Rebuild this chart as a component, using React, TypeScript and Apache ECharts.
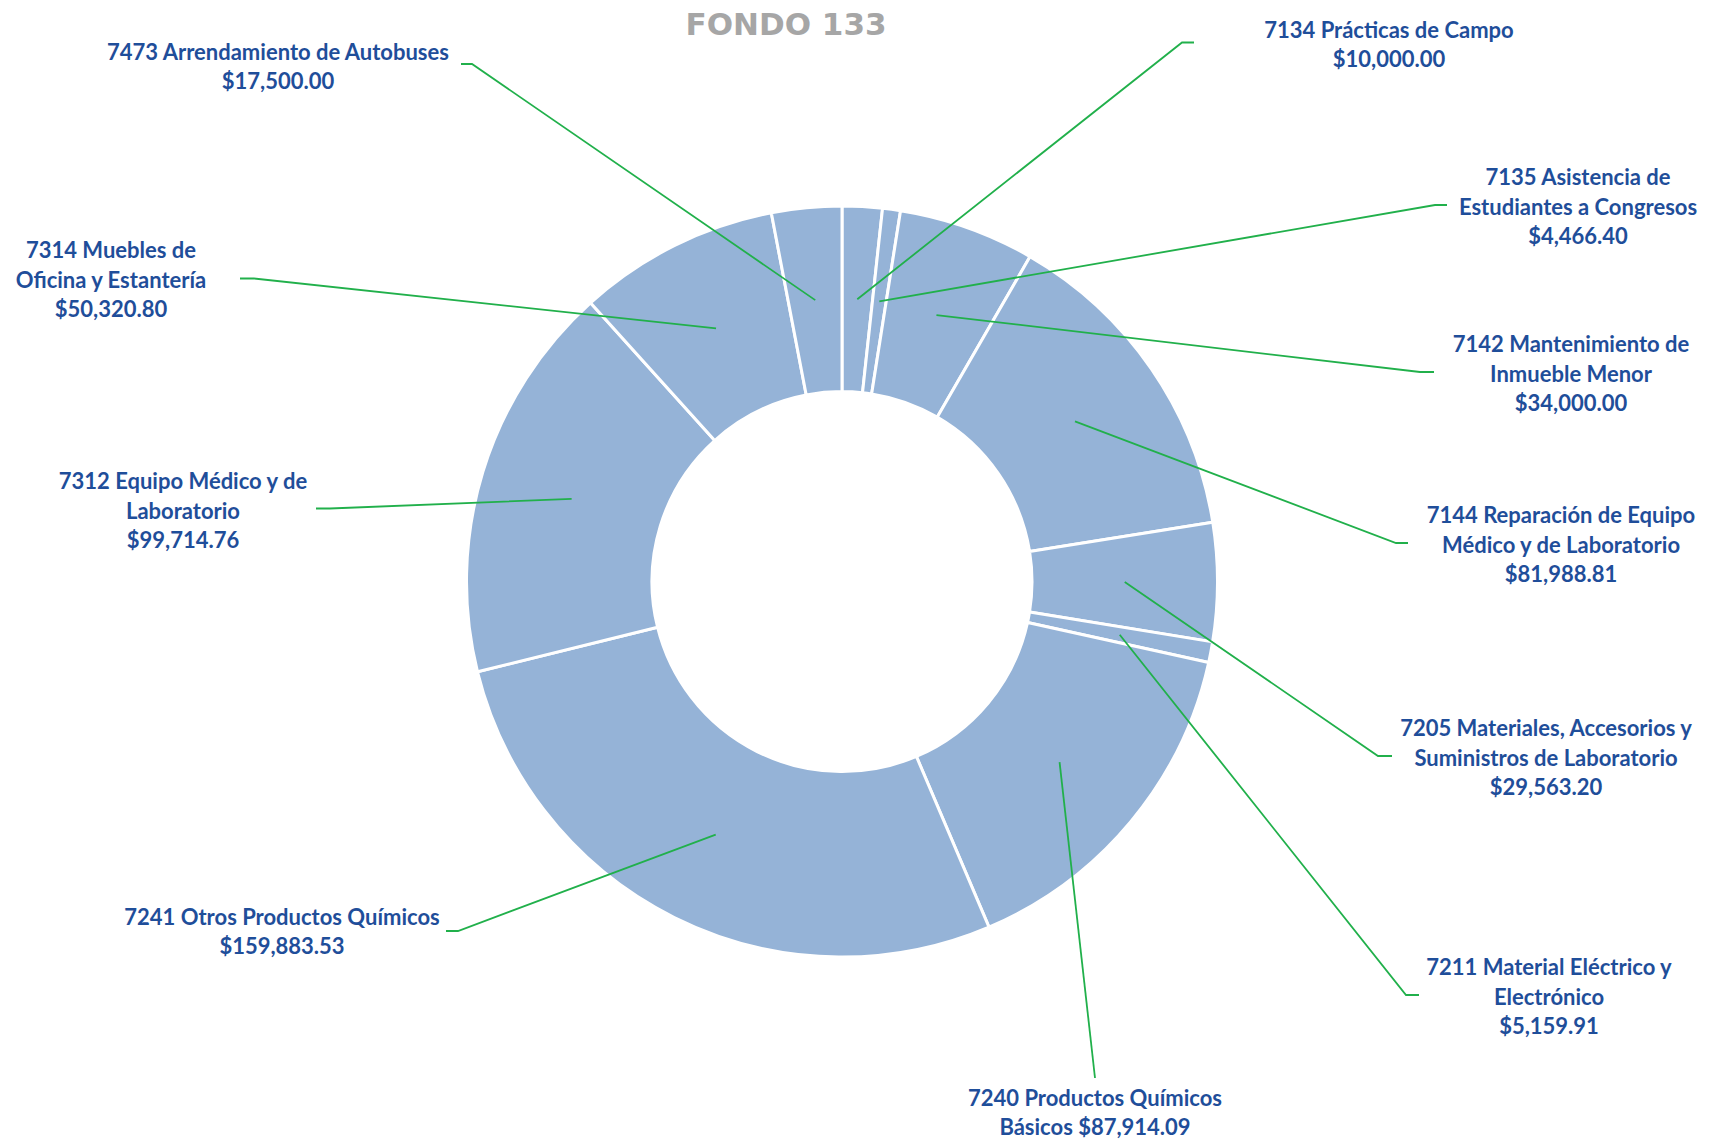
import React, { useEffect, useRef } from "react";
import * as echarts from "echarts";

// ---- data ----
const categories: string[] = [
  "7134 Prácticas de Campo",
  "7135 Asistencia de\nEstudiantes a Congresos",
  "7142 Mantenimiento de\nInmueble Menor",
  "7144 Reparación de Equipo\nMédico y de Laboratorio",
  "7205 Materiales, Accesorios y\nSuministros de Laboratorio",
  "7211 Material Eléctrico y\nElectrónico",
  "7240 Productos Químicos\nBásicos",
  "7241 Otros Productos Químicos",
  "7312 Equipo Médico y de\nLaboratorio",
  "7314 Muebles de\nOficina y Estantería",
  "7473 Arrendamiento de Autobuses",
];
const amounts: number[] = [
  10000.0, 4466.4, 34000.0, 81988.81, 29563.2, 5159.91, 87914.09, 159883.53,
  99714.76, 50320.8, 17500.0,
];
const valueSeparators: string[] = ["\n", "\n", "\n", "\n", "\n", "\n", " ", "\n", "\n", "\n", "\n"];
const chartTitle = "FONDO 133";

// ---- layout (positions, not data) ----
const CX = 842;
const CY = 581.6;
const R_IN = 190;
const R_OUT = 375.5;
const R_MID = (R_IN + R_OUT) / 2;

type LabelPlace = { x: number; y: number; line: number[][] };
const labelPlaces: LabelPlace[] = [
  { x: 1389, y: 44, line: [[1182, 42.5], [1194, 42.5]] },
  { x: 1578, y: 206, line: [[1435, 205], [1447, 205]] },
  { x: 1571, y: 373, line: [[1420, 372], [1434, 372]] },
  { x: 1561, y: 544, line: [[1396, 543], [1408, 543]] },
  { x: 1546, y: 757, line: [[1378, 756], [1392, 756]] },
  { x: 1549, y: 996, line: [[1406, 995], [1419, 995]] },
  { x: 1095, y: 1112, line: [[1095, 1078], [1095, 1078]] },
  { x: 282, y: 931, line: [[458, 931], [446, 931]] },
  { x: 183, y: 510, line: [[330, 508.5], [316, 508.5]] },
  { x: 111, y: 279, line: [[254, 278.5], [240, 278.5]] },
  { x: 278, y: 66, line: [[472, 64], [461, 64]] },
];

const money = (v: number) =>
  "$" + v.toLocaleString("en-US", { minimumFractionDigits: 2, maximumFractionDigits: 2 });

export default function App() {
  const ref = useRef<HTMLDivElement>(null);

  useEffect(() => {
    if (!ref.current) return;
    const chart = echarts.init(ref.current, undefined, { renderer: "svg" });
    const total = amounts.reduce((a, b) => a + b, 0);
    const pieData = categories.map((name, i) => ({ name, value: amounts[i] }));

    const common = {
      type: "pie",
      center: [CX, CY],
      radius: [R_IN, R_OUT],
      startAngle: 90,
      clockwise: true,
      avoidLabelOverlap: false,
      silent: true,
      emphasis: { disabled: true },
    };

    const option: any = {
      animation: false,
      backgroundColor: "#ffffff",
      graphic: [
        {
          type: "text",
          x: 786,
          y: 24,
          style: {
            text: chartTitle,
            align: "center",
            verticalAlign: "middle",
            fill: "#A6A6A6",
            fontFamily: "DejaVu Sans",
            fontWeight: "bold",
            fontSize: 31,
          },
        },
      ],
      series: [
        {
          ...common,
          z: 2,
          itemStyle: { color: "#95B3D7", borderColor: "#ffffff", borderWidth: 3 },
          label: { show: false },
          labelLine: { show: false },
          data: pieData,
        },
        {
          ...common,
          z: 5,
          itemStyle: { color: "rgba(0,0,0,0)", borderWidth: 0 },
          label: {
            show: true,
            position: "outside",
            color: "#1F4E9A",
            fontFamily: "Lato",
            fontWeight: "bold",
            fontSize: 22,
            lineHeight: 29.5,
            align: "center",
            formatter: (p: any) => p.name + valueSeparators[p.dataIndex] + money(p.value),
          },
          labelLine: {
            show: true,
            length: 10,
            length2: 10,
            lineStyle: { color: "#21B04B", width: 1.8 },
          },
          labelLayout: (params: any) => {
            const i = params.dataIndex;
            const place = labelPlaces[i];
            let dx: number, dy: number;
            const p0 = params.labelLinePoints && params.labelLinePoints[0];
            if (p0) {
              dx = p0[0] - CX;
              dy = p0[1] - CY;
            } else {
              let before = 0;
              for (let k = 0; k < i; k++) before += amounts[k];
              const mid = ((before + amounts[i] / 2) / total) * Math.PI * 2;
              dx = Math.sin(mid);
              dy = -Math.cos(mid);
            }
            const d = Math.hypot(dx, dy) || 1;
            const start = [CX + (dx / d) * R_MID, CY + (dy / d) * R_MID];
            return {
              x: place.x,
              y: place.y,
              align: "center",
              verticalAlign: "middle",
              labelLinePoints: [start, ...place.line],
            };
          },
          data: pieData,
        },
      ],
    };
    chart.setOption(option);
    return () => chart.dispose();
  }, []);

  return (
    <div
      ref={ref}
      style={{ position: "absolute", left: 0, top: 0, width: 1729, height: 1141 }}
    />
  );
}
